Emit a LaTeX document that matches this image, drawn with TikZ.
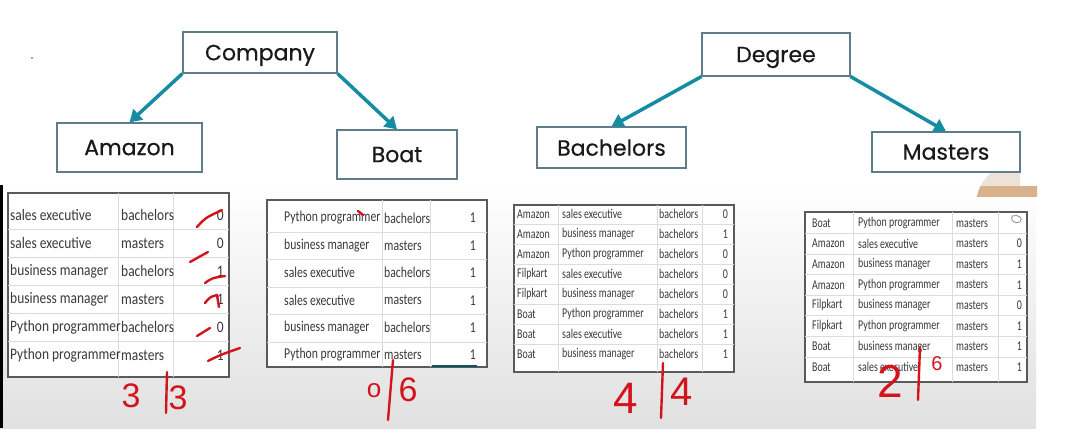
\documentclass[tikz,border=0pt]{standalone}
\usepackage{graphicx}
\usepackage{fontspec}
\setmainfont{Liberation Sans}
\newfontfamily\popfont[FakeBold=0.5]{Poppins}
\newfontfamily\calfont{Carlito}
\usetikzlibrary{arrows.meta}
\definecolor{teal1}{HTML}{168CA3}
\definecolor{boxline}{HTML}{5E7D86}
\definecolor{pen}{HTML}{D4141C}
\definecolor{celltext}{HTML}{3A3A3A}
\definecolor{gridc}{HTML}{DCDCDC}
\definecolor{tblline}{HTML}{5A5A5A}
\newcommand\sqA[1]{\scalebox{0.84}[1]{#1}}
\newcommand\sqB[1]{\scalebox{0.78}[1]{#1}}
\newcommand\sqC[1]{\scalebox{0.74}[1]{#1}}
\begin{document}
\begin{tikzpicture}[x=1pt,y=-1pt,
  hbox/.style={draw=boxline, line width=1.2pt, fill=white, inner sep=0pt, text depth=0pt,
    font=\popfont\fontsize{22}{26}\selectfont, text=black!90},
  conn/.style={teal1, line width=3.5pt, -{Triangle[length=12pt,width=14pt]}},
  tbl/.style={draw=tblline, line width=1.3pt, fill=white},
  gridl/.style={draw=gridc, line width=0.8pt},
  cA/.style={inner sep=0pt, anchor=west, text=celltext, font=\calfont\fontsize{16}{18}\selectfont},
  cB/.style={inner sep=0pt, anchor=west, text=celltext, font=\calfont\fontsize{15}{17}\selectfont},
  cC/.style={inner sep=0pt, anchor=west, text=celltext, font=\calfont\fontsize{13.4}{15}\selectfont},
  penl/.style={pen, line width=2.4pt, line cap=round, line join=round},
  hand/.style={inner sep=0pt, text=pen, font=\fontsize{#1}{#1}\selectfont},
]
\useasboundingbox (0,0) rectangle (1072,440);
\fill[white] (0,0) rectangle (1072,440);
% background of lower area
\shade[top color=white, bottom color=black!12] (0,183) rectangle (1036,428);
\fill[black] (0,185) rectangle (2.5,428);
% webcam overlay fragment
\begin{scope}
  \clip (970,150) rectangle (1020,186);
  \fill[black!15!brown!20] (1018,205) circle (42);
\end{scope}
\begin{scope}
  \clip (970,186) rectangle (1037,196);
  \fill[brown!60!white] (1018,205) circle (42);
\end{scope}
\fill[pen] (32,58) circle (0.8);

% header boxes
\node[hbox, minimum width=154pt, minimum height=41pt] (company) at (260,52.5) {Company};
\node[hbox, minimum width=145pt, minimum height=49pt] (amazon) at (129.5,147.5) {Amazon};
\node[hbox, minimum width=120pt, minimum height=49pt] (boat) at (397,154.5) {Boat};
\node[hbox, minimum width=148pt, minimum height=43pt] (degree) at (776,54.5) {Degree};
\node[hbox, minimum width=149pt, minimum height=41pt] (bach) at (611.5,147.5) {Bachelors};
\node[hbox, minimum width=148pt, minimum height=40pt] (masters) at (946,152) {Masters};
\draw[conn] (company.south west) -- (amazon.north);
\draw[conn] (company.south east) -- (boat.north);
\draw[conn] (degree.south west) -- (bach.north);
\draw[conn] (degree.south east) -- (masters.north);

% table 1
\draw[tbl] (8,193) rectangle (229,377);
\foreach \y in {229,257,285,313,341} \draw[gridl] (8,\y) -- (229,\y);
\foreach \x in {118,173} \draw[gridl] (\x,193) -- (\x,377);
\foreach \a/\b/\c [count=\i] in {sales executive/bachelors/0, sales executive/masters/0,
  business manager/bachelors/1, business manager/masters/1,
  Python programmer/bachelors/0, Python programmer/masters/1} {
  \node[cA] (ta\i) at (10,{215+28*(\i-1)}) {\sqA{\a}};
  \node[cA] (tb\i) at (121,{215+28*(\i-1)}) {\sqA{\b}};
  \node[cA, anchor=east] (tc\i) at (224,{215+28*(\i-1)}) {\sqA{\c}};
}
% table 2
\draw[tbl] (267,200) rectangle (487,367);
\foreach \y in {232,259.5,287,314.5,342} \draw[gridl] (267,\y) -- (487,\y);
\foreach \x in {382,430} \draw[gridl] (\x,200) -- (\x,367);
\foreach \a/\b/\c [count=\i] in {Python programmer/bachelors/1, business manager/masters/1,
  sales executive/bachelors/1, sales executive/masters/1,
  business manager/bachelors/1, Python programmer/masters/1} {
  \node[cB] (ua\i) at (284,{218+27.4*(\i-1)}) {\sqB{\a}};
  \node[cB] (ub\i) at (384,{218+27.4*(\i-1)}) {\sqB{\b}};
  \node[cB, anchor=east] (uc\i) at (476,{218+27.4*(\i-1)}) {\sqB{\c}};
}
\draw[teal1!60!black, line width=1.8pt] (432,366) -- (477,366);
% table 3
\draw[tbl] (514,205) rectangle (734,372);
\foreach \y in {224,244,264,284,304,324,344} \draw[gridl] (514,\y) -- (734,\y);
\foreach \x in {558,657,702} \draw[gridl] (\x,205) -- (\x,372);
\foreach \a/\b/\c/\d [count=\i] in {Amazon/sales executive/bachelors/0,
  Amazon/business manager/bachelors/1, Amazon/Python programmer/bachelors/0,
  Filpkart/sales executive/bachelors/0, Filpkart/business manager/bachelors/0,
  Boat/Python programmer/bachelors/1, Boat/sales executive/bachelors/1,
  Boat/business manager/bachelors/1} {
  \node[cC] (va\i) at (517,{214+20*(\i-1)}) {\sqC{\a}};
  \node[cC] (vb\i) at (562,{214+20*(\i-1)}) {\sqC{\b}};
  \node[cC] (vc\i) at (659,{214+20*(\i-1)}) {\sqC{\c}};
  \node[cC, anchor=east] (vd\i) at (728,{214+20*(\i-1)}) {\sqC{\d}};
}
% table 4
\draw[tbl] (805,212) rectangle (1027,382);
\foreach \k in {0,...,6} \draw[gridl] (805,{233.3+20.6*\k}) -- (1027,{233.3+20.6*\k});
\foreach \x in {853,952,998} \draw[gridl] (\x,212) -- (\x,382);
\foreach \a/\b/\c/\d [count=\i] in {Boat/Python programmer/masters/{},
  Amazon/sales executive/masters/0, Amazon/business manager/masters/1,
  Amazon/Python programmer/masters/1, Filpkart/business manager/masters/0,
  Filpkart/Python programmer/masters/1, Boat/business manager/masters/1,
  Boat/sales executive/masters/1} {
  \node[cC] (wa\i) at (812,{223+20.6*(\i-1)}) {\sqC{\a}};
  \node[cC] (wb\i) at (858,{223+20.6*(\i-1)}) {\sqC{\b}};
  \node[cC] (wc\i) at (956,{223+20.6*(\i-1)}) {\sqC{\c}};
  \node[cC, anchor=east] (wd\i) at (1022,{223+20.6*(\i-1)}) {\sqC{\d}};
}
\draw[black!45, line width=0.8pt] (1012,216) .. controls (1018,214) and (1024,218) .. (1020,222) .. controls (1015,224) and (1010,221) .. (1012,216);

% red pen marks
\draw[penl] (197,227) .. controls (205,218) .. (222,210);
\draw[penl] (190,262) -- (208,252);
\draw[penl] (205,283) .. controls (212,278) .. (225,276);
\draw[penl] (205,303) .. controls (210,297) .. (217,295) -- (219,307);
\draw[penl] (197,336) -- (210,328);
\draw[penl] (208,361) .. controls (220,355) .. (240,348);
\draw[penl] (358,211) -- (363,215);

\node[hand=34] (n1a) at (131,396) {3};
\draw[penl] (167,372) -- (166,413);
\node[hand=34] (n1b) at (178,398) {3};

\node[hand=26] (n2a) at (374,391) {o};
\draw[penl] (393,360) -- (388,420);
\node[hand=34] (n2b) at (408,390) {6};

\node[hand=44] (n3a) at (626,398) {4};
\draw[penl] (663,363) -- (661,418);
\node[hand=40] (n3b) at (682,392) {4};

\node[hand=46] (n4a) at (890,381) {2};
\draw[penl] (920,347) -- (918,400);
\node[hand=20] (n4b) at (937,364) {6};
\end{tikzpicture}
\end{document}
